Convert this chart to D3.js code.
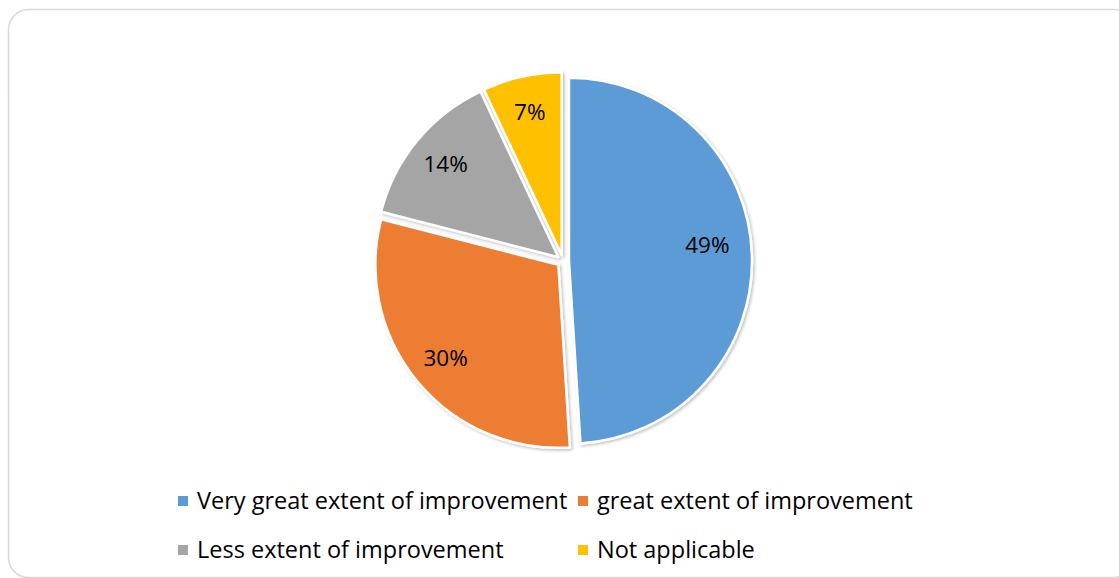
<!DOCTYPE html>
<html>
    <head>
        <meta charset="utf-8" />
        <title>Extent of improvement</title>
        <script src="https://d3js.org/d3.v7.min.js"></script>
        <style>
            body {
                margin: 0px;
                background: white;
            }
            text {
                font-family: "Open Sans", Lato, sans-serif;
                fill: #000;
            }
        </style>
    </head>
    <body>
        <svg id="chart"></svg>
        <script>

        var width = 1119;
        var height = 578;

        // chart data
        var categories = ["Very great extent of improvement", "great extent of improvement",
            "Less extent of improvement", "Not applicable"];
        var values = [49, 30, 14, 7];
        var colors = ["#5B9BD5", "#ED7D31", "#A5A5A5", "#FFC000"];

        var cx = 563, cy = 261;
        var radius = 183;
        var explode = 6;

        var svg = d3.select("#chart")
            .attr("width", width)
            .attr("height", height);

        var defs = svg.append("defs");
        var shadow = defs.append("filter")
            .attr("id", "shadow")
            .attr("x", "-10%").attr("y", "-10%")
            .attr("width", "120%").attr("height", "120%");
        shadow.append("feDropShadow")
            .attr("dx", 1.5).attr("dy", 1.5)
            .attr("stdDeviation", 1.5)
            .attr("flood-color", "#000")
            .attr("flood-opacity", 0.25);

        // frame
        svg.append("rect")
            .attr("x", 8.5)
            .attr("y", 9.5)
            .attr("width", 1125)
            .attr("height", 568)
            .attr("rx", 20)
            .attr("fill", "white")
            .attr("stroke", "#d9d9d9")
            .attr("stroke-width", 1.5);

        var pie = d3.pie().sort(null).value(function(d) { return d; });
        var arcs = pie(values);

        var arc = d3.arc().innerRadius(0).outerRadius(radius);
        var labelArc = d3.arc().innerRadius(radius * 0.8).outerRadius(radius * 0.8);

        var slices = svg.append("g")
            .attr("transform", "translate(" + cx + "," + cy + ")")
            .selectAll(".slice")
            .data(arcs)
            .enter().append("g")
            .attr("class", "slice")
            .attr("transform", function(d) {
                var mid = (d.startAngle + d.endAngle) / 2;
                return "translate(" + (Math.sin(mid) * explode) + "," + (-Math.cos(mid) * explode) + ")";
            });

        slices.append("path")
            .attr("d", arc)
            .attr("fill", function(d, i) { return colors[i]; })
            .attr("stroke", "white")
            .attr("stroke-width", 2.5)
            .attr("stroke-linejoin", "round")
            .attr("filter", "url(#shadow)");

        slices.append("text")
            .attr("transform", function(d) {
                var c = labelArc.centroid(d);
                // the big slice label sits a bit further in and higher, as in the original
                if (d.index === 0) c = [c[0] - 8, c[1] - 11];
                return "translate(" + c + ")";
            })
            .attr("text-anchor", "middle")
            .attr("dy", "0.36em")
            .style("font-size", "22.5px")
            .text(function(d, i) { return values[i] + "%"; });

        // legend, two columns by two rows
        var legendX = [178, 578];
        var legendY = [501, 550];

        var legend = svg.append("g")
            .selectAll(".legend")
            .data(categories)
            .enter().append("g")
            .attr("class", "legend")
            .attr("transform", function(d, i) {
                return "translate(" + legendX[i % 2] + "," + legendY[Math.floor(i / 2)] + ")";
            });

        legend.append("rect")
            .attr("x", 0)
            .attr("y", -5)
            .attr("width", 10)
            .attr("height", 10)
            .attr("fill", function(d, i) { return colors[i]; });

        legend.append("text")
            .attr("x", 19)
            .attr("y", 0)
            .attr("dy", "0.35em")
            .style("font-size", "23.5px")
            .text(function(d) { return d; });

        </script>
    </body>
</html>
